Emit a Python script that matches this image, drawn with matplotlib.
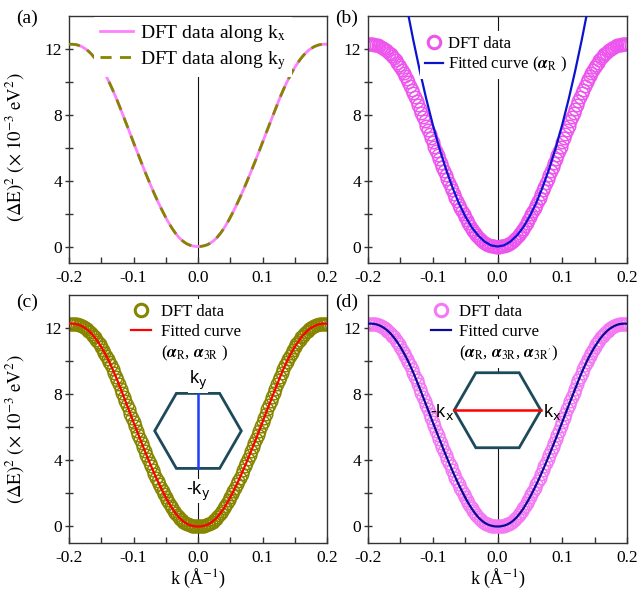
import numpy as np
import matplotlib.pyplot as plt
from matplotlib.lines import Line2D
from matplotlib.patches import RegularPolygon
from matplotlib.transforms import ScaledTranslation

plt.rcParams['font.family'] = ['Liberation Serif', 'DejaVu Serif']
plt.rcParams['mathtext.fontset'] = 'stix'
plt.rcParams['font.size'] = 12
plt.rcParams['axes.unicode_minus'] = False

# k grid of the DFT data (1/Angstrom), evenly sampled
k = np.linspace(-0.2, 0.2, 161)

# (dE)^2 in 1e-3 eV^2
dft_e2 = [12.26, 12.27, 12.27, 12.26, 12.25, 12.23, 12.20, 12.16, 12.12, 12.06,
          12.00, 11.93, 11.85, 11.76, 11.66, 11.55, 11.43, 11.30, 11.16, 11.01,
          10.86, 10.69, 10.52, 10.34, 10.15, 9.95, 9.74, 9.52, 9.30, 9.07,
          8.83, 8.59, 8.34, 8.09, 7.84, 7.59, 7.33, 7.08, 6.82, 6.57,
          6.31, 6.06, 5.80, 5.55, 5.30, 5.05, 4.81, 4.57, 4.33, 4.09,
          3.86, 3.63, 3.40, 3.18, 2.96, 2.75, 2.54, 2.34, 2.14, 1.95,
          1.76, 1.58, 1.41, 1.25, 1.09, 0.95, 0.81, 0.69, 0.57, 0.47,
          0.38, 0.30, 0.23, 0.17, 0.12, 0.08, 0.05, 0.03, 0.01, 0.00,
          0.00,
          0.00, 0.01, 0.03, 0.05, 0.08, 0.12, 0.17, 0.23, 0.30, 0.38,
          0.47, 0.57, 0.69, 0.81, 0.95, 1.09, 1.25, 1.41, 1.58, 1.76,
          1.95, 2.14, 2.34, 2.54, 2.75, 2.96, 3.18, 3.40, 3.63, 3.86,
          4.09, 4.33, 4.57, 4.81, 5.05, 5.30, 5.55, 5.80, 6.06, 6.31,
          6.57, 6.82, 7.08, 7.33, 7.59, 7.84, 8.09, 8.34, 8.59, 8.83,
          9.07, 9.30, 9.52, 9.74, 9.95, 10.15, 10.34, 10.52, 10.69, 10.86,
          11.01, 11.16, 11.30, 11.43, 11.55, 11.66, 11.76, 11.85, 11.93, 12.00,
          12.06, 12.12, 12.16, 12.20, 12.23, 12.25, 12.26, 12.27, 12.27, 12.26]

# along kx and ky the DFT curves lie on top of each other
dft_kx = dft_e2
dft_ky = list(dft_e2)

# fit with alpha_R only (parabola)
k_fit_r = [-0.15, -0.14, -0.13, -0.12, -0.11, -0.10, -0.09, -0.08, -0.07, -0.06,
           -0.05, -0.04, -0.03, -0.02, -0.01, 0.00, 0.01, 0.02, 0.03, 0.04,
           0.05, 0.06, 0.07, 0.08, 0.09, 0.10, 0.11, 0.12, 0.13, 0.14, 0.15]
fit_r = [16.65, 14.50, 12.51, 10.66, 8.95, 7.40, 5.99, 4.74, 3.63, 2.66,
         1.85, 1.18, 0.67, 0.30, 0.07, 0.00, 0.07, 0.30, 0.67, 1.18,
         1.85, 2.66, 3.63, 4.74, 5.99, 7.40, 8.95, 10.66, 12.51, 14.50, 16.65]

# higher order fits follow the DFT data
fit_r_3r = list(dft_e2)
fit_r_3r_3rp = list(dft_e2)

xticks = [-0.2, -0.1, 0.0, 0.1, 0.2]
xticklabels = ['-0.2', '-0.1', '0.0', '0.1', '0.2']
yticks = [0, 4, 8, 12]

W, H = 639, 592
fig = plt.figure(figsize=(W / 100, H / 100), dpi=100)


def px_axes(l, t, r, b):
    return fig.add_axes([l / W, 1 - b / H, (r - l) / W, (b - t) / H])


def style(ax):
    ax.set_xlim(-0.2, 0.2)
    ax.set_ylim(-1, 14)
    ax.set_xticks(xticks)
    ax.set_xticklabels(xticklabels)
    ax.set_xticks([-0.15, -0.05, 0.05, 0.15], minor=True)
    ax.set_yticks(yticks)
    ax.set_yticks([2, 6, 10], minor=True)
    ax.tick_params(axis='x', which='both', direction='in', length=4, width=1,
                   pad=5, labelsize=12.5, color='#333333')
    ax.tick_params(axis='y', which='both', direction='inout', length=6, width=1,
                   pad=2, labelsize=12.5, color='#333333')
    for s in ax.spines.values():
        s.set_color('#333333')
        s.set_linewidth(1.0)
    ax.axvline(0, color='#111111', lw=0.8, zorder=1)


def legend(ax, handles, anchor, fontsize=12, **kw):
    leg = ax.legend(handles=handles, loc='upper left', bbox_to_anchor=anchor,
                    frameon=True, fancybox=False, edgecolor='none',
                    facecolor='white', framealpha=1, fontsize=fontsize,
                    borderaxespad=0, borderpad=0.3, **kw)
    leg.set_zorder(5)
    return leg


def klabel(ax, x, y, trans, text, ha, va, boxed):
    kw = dict(transform=trans, ha=ha, va=va, family='Liberation Sans',
              fontsize=13, zorder=6, math_fontfamily='dejavusans')
    if boxed:
        kw['bbox'] = dict(fc='white', ec='none', pad=0.5)
    ax.text(x, y, text, **kw)


def hexagon(ax, yc, line_color, direction, labels):
    trans = fig.dpi_scale_trans + ScaledTranslation(0, yc, ax.transData)
    r = 0.433
    h = r * np.sqrt(3) / 2
    ax.add_patch(RegularPolygon((0, 0), 6, radius=r, orientation=np.pi / 6,
                                transform=trans, facecolor='white',
                                edgecolor='#1d4a5a', lw=2.0, zorder=4))
    if direction == 'y':
        ax.add_line(Line2D([0, 0], [-h, h], transform=trans, color=line_color,
                           lw=1.8, zorder=4))
        klabel(ax, 0, h + 0.01, trans, labels[0], 'center', 'bottom', True)
        klabel(ax, 0, -h - 0.11, trans, labels[1], 'center', 'top', True)
    else:
        ax.add_line(Line2D([-r, r], [0, 0], transform=trans, color=line_color,
                           lw=1.8, zorder=4))
        klabel(ax, -r, -0.065, trans, labels[0], 'right', 'baseline', False)
        klabel(ax, r + 0.02, -0.065, trans, labels[1], 'left', 'baseline', False)


ax_a = px_axes(69, 15.7, 327, 263)
ax_b = px_axes(368, 15.7, 627, 263)
ax_c = px_axes(69, 295, 327, 543)
ax_d = px_axes(368, 295, 627, 543)
for ax in (ax_a, ax_b, ax_c, ax_d):
    style(ax)

pink = '#ff80ff'
olive = '#858500'
mag_b = '#ee55ee'
mag_d = '#f47af4'

# (a)
la, = ax_a.plot(k, dft_kx, color=pink, lw=2.0, zorder=2,
                label=r'DFT data along k$_{\rm x}$')
lb, = ax_a.plot(k, dft_ky, color=olive, lw=2.0, ls=(0, (4, 3)), zorder=3,
                label=r'DFT data along k$_{\rm y}$')
legend(ax_a, [la, lb], (0.097, 0.995), fontsize=14, handlelength=1.7,
       handletextpad=0.36, labelspacing=0.25)

mk = dict(marker='o', ls='none', mfc='none', ms=9, mew=1.1, zorder=2)


def dft_handle(color, label):
    return Line2D([], [], marker='o', ls='none', mfc='none', mec=color, ms=9,
                  mew=2.2, label=label)


# (b)
ax_b.plot(k, dft_e2, mec=mag_b, **mk)
fb, = ax_b.plot(k_fit_r, fit_r, color='#0a14d0', lw=1.6, zorder=3,
                label=r'Fitted curve ($\boldsymbol{\alpha}_{\rm R}$ )')
legend(ax_b, [dft_handle(mag_b, 'DFT data'), fb], (0.2, 0.94),
       handlelength=1.1, handletextpad=0.3, labelspacing=0.2)

# (c)
ax_c.plot(k, dft_e2, mec=olive, **mk)
fc, = ax_c.plot(k, fit_r_3r, color='#ff0000', lw=1.6, zorder=3,
                label='Fitted curve')
ec = Line2D([], [], color='none',
            label=r'($\boldsymbol{\alpha}_{\rm R}$, $\boldsymbol{\alpha}_{\rm 3R}$ )')
legend(ax_c, [dft_handle(olive, 'DFT data'), fc, ec], (0.22, 0.985),
       handlelength=1.2, handletextpad=0.6, labelspacing=0.25)
hexagon(ax_c, 5.78, '#1f3cff', 'y', [r'k$_\mathrm{y}$', r'-k$_\mathrm{y}$'])

# (d)
ax_d.plot(k, dft_e2, mec=mag_d, **mk)
fd, = ax_d.plot(k, fit_r_3r_3rp, color='#0a0a96', lw=1.6, zorder=3,
                label='Fitted curve')
ed = Line2D([], [], color='none',
            label=r'($\boldsymbol{\alpha}_{\rm R}$, $\boldsymbol{\alpha}_{\rm 3R}$, '
                  r'$\boldsymbol{\alpha}_{\rm 3R^{\prime}}$)')
legend(ax_d, [dft_handle(mag_d, 'DFT data'), fd, ed], (0.224, 0.985),
       handlelength=1.2, handletextpad=0.45, labelspacing=0.25)
hexagon(ax_d, 7.03, '#ff0000', 'x', [r'-k$_\mathrm{x}$', r'k$_\mathrm{x}$'])

ylab = r'$(\Delta\mathrm{E})^2\ (\times\ 10^{-3}\ \mathrm{eV}^2)$'
ax_a.set_ylabel(ylab, fontsize=13.5)
ax_a.yaxis.set_label_coords(-0.163, 0.469)
ax_c.set_ylabel(ylab, fontsize=13.5)
ax_c.yaxis.set_label_coords(-0.163, 0.46)
for ax in (ax_c, ax_d):
    ax.set_xlabel(r'k (Å$^{-1}$)', fontsize=13, labelpad=1)

for lab, x, y in [('(a)', 27, 18), ('(b)', 347, 18), ('(c)', 27, 302), ('(d)', 347, 302)]:
    fig.text(x / W, 1 - y / H, lab, fontsize=14, ha='center', va='center')

fig.savefig('out.png', dpi=100)
